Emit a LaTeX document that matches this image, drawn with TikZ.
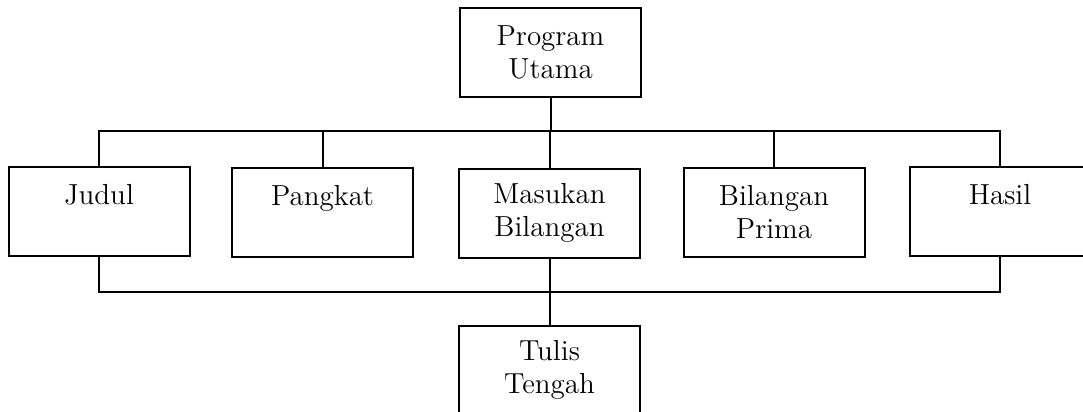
\documentclass[tikz,border=0pt]{standalone}
\begin{document}
\begin{tikzpicture}[x=0.5pt,y=-0.5pt,
  box/.style={draw,line width=1pt,minimum width=90.5pt,minimum height=44.5pt,inner sep=0pt,align=center,
    font=\fontsize{14.5}{16.5}\selectfont},
  wire/.style={line width=1pt}]
\clip (0,0) rectangle (1083,412);
\useasboundingbox (0,0) rectangle (1083,412);
\node[box] (prog) at (550.5,52) {Program\\Utama};
\node[box] (judul) at (99,211) {Judul\\\mbox{}};
\node[box] (pangkat) at (322.5,212) {Pangkat\\\mbox{}};
\node[box] (masukan) at (549.5,213) {Masukan\\Bilangan};
\node[box] (prima) at (774,212.5) {Bilangan\\Prima};
\node[box] (hasil) at (1000,211) {Hasil\\\mbox{}};
\node[box] (tulis) at (549.5,370) {Tulis\\Tengah};
\coordinate (bt) at (550.5,131);
\coordinate (bb) at (549.5,292);
\draw[wire] (prog.south) -- (bt);
\draw[wire] (judul.north) |- (bt) -| (hasil.north);
\draw[wire] (pangkat.north) -- (pangkat.north |- bt);
\draw[wire] (masukan.north) -- (masukan.north |- bt);
\draw[wire] (prima.north) -- (prima.north |- bt);
\draw[wire] (judul.south) |- (bb) -| (hasil.south);
\draw[wire] (masukan.south) -- (tulis.north);
\end{tikzpicture}
\end{document}
